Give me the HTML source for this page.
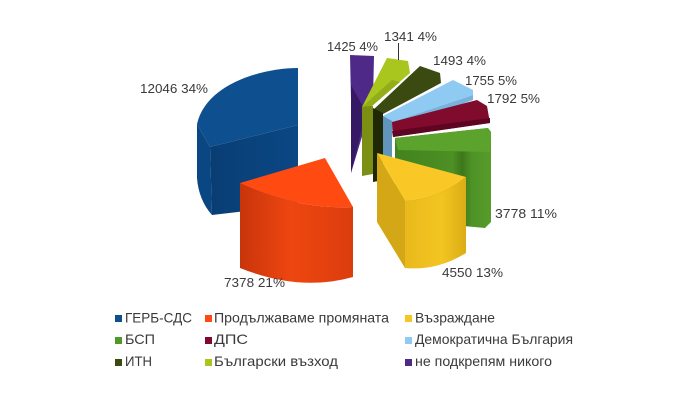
<!DOCTYPE html>
<html>
<head>
<meta charset="utf-8">
<style>
  html,body{margin:0;padding:0;background:#ffffff;}
  svg{display:block;}
  text{font-family:"Liberation Sans","Noto Sans CJK SC",sans-serif;fill:#3a3a3a;}
</style>
</head>
<body>
<svg width="680" height="416" viewBox="0 0 680 416" xmlns="http://www.w3.org/2000/svg">
  <defs>
    <linearGradient id="redFront" x1="0" y1="0" x2="1" y2="0">
      <stop offset="0" stop-color="#c8350b"/>
      <stop offset="0.45" stop-color="#ee4610"/>
      <stop offset="1" stop-color="#db3d0d"/>
    </linearGradient>
    <linearGradient id="yelFront" x1="0" y1="0" x2="1" y2="0">
      <stop offset="0" stop-color="#e9b91c"/>
      <stop offset="0.6" stop-color="#f3c521"/>
      <stop offset="1" stop-color="#dcac16"/>
    </linearGradient>
    <linearGradient id="greenMain" x1="0" y1="0" x2="1" y2="0">
      <stop offset="0" stop-color="#428220"/>
      <stop offset="0.6" stop-color="#4d9024"/>
      <stop offset="0.7" stop-color="#3e771b"/>
      <stop offset="0.8" stop-color="#4e9326"/>
      <stop offset="1" stop-color="#579b2b"/>
    </linearGradient>
    <linearGradient id="blueFront" x1="0" y1="0" x2="1" y2="0">
      <stop offset="0" stop-color="#093e74"/>
      <stop offset="1" stop-color="#0b4784"/>
    </linearGradient>
  </defs>

  <!-- purple -->
  <path d="M350,55 L374,56 L373,100 L351,173 L351,100 Z" fill="#4e2987"/>
  <path d="M351,85 L366,112 L351,173 Z" fill="#361964"/>

  <!-- lime -->
  <path d="M387,58 L408,61 L410,73 L372,106 L362,107 Z" fill="#a9c61e"/>
  <path d="M362,107 L372,106 L400,82 L392,80 Z" fill="#93ad18"/>
  <path d="M362,107 L373,106 L373,174 L362,176 Z" fill="#7a8f14"/>

  <!-- olive -->
  <path d="M420,66 L440,73 L441,83 L383,114 L373,110 Z" fill="#3b4a10"/>
  <path d="M373,108 L383,113 L383,180 L373,182 Z" fill="#1f2906"/>

  <!-- light blue -->
  <path d="M453,80 L473,90 L473,95 L392,122 L383,116 Z" fill="#8ecaf1"/>
  <path d="M383,116 L392,122 L473,95 L473,100 L392,130 Z" fill="#79b2dc"/>
  <path d="M383,116 L392,121 L392,160 L383,160 Z" fill="#6295bb"/>

  <!-- maroon -->
  <path d="M477,100 L487,106 L490,123 L393,137 L392,122 Z" fill="#800b2c"/>
  <path d="M392,131 L490,118 L490,123 L393,137 Z" fill="#5e0521"/>

  <!-- green -->
  <path d="M395,138 L488,128 L491,132 L491,222 L485,228 L420,222 L395,200 Z" fill="url(#greenMain)"/>
  <path d="M395,138 L488,128 L491,132 L490,152 L398,150 Z" fill="#5ba32d"/>

  <!-- blue -->
  <path d="M298,68 C262,68 206,84 197,124 L210,147 L298,125 Z" fill="#0e4f90"/>
  <path d="M197,124 L210,147 L212,215 C203,205 198,192 197,178 Z" fill="#0a4682"/>
  <path d="M210,147 L298,125 L298,205 L212,215 Z" fill="url(#blueFront)"/>

  <!-- yellow -->
  <path d="M377,153 L405,201 L405,268 L377,222 Z" fill="#d4a716"/>
  <path d="M405,201 Q437,200 466,177 L466,253 Q437,271 405,268 Z" fill="url(#yelFront)"/>
  <path d="M377,153 L405,201 Q437,200 466,177 Z" fill="#fac826"/>

  <!-- red -->
  <path d="M240,183 Q297,210 353,207 L353,277 Q300,292 240,268 Z" fill="url(#redFront)"/>
  <path d="M240,183 L325,158 L353,207 Q297,210 240,183 Z" fill="#ff4b12"/>

  <!-- leader line -->
  <line x1="398.5" y1="43" x2="398.5" y2="60" stroke="#333" stroke-width="1"/>

  <!-- labels -->
  <g font-size="13">
    <text x="140" y="93" textLength="68" lengthAdjust="spacingAndGlyphs">12046 34%</text>
    <text x="327" y="51" textLength="51" lengthAdjust="spacingAndGlyphs">1425 4%</text>
    <text x="384" y="41" textLength="53" lengthAdjust="spacingAndGlyphs">1341 4%</text>
    <text x="433" y="65" textLength="53" lengthAdjust="spacingAndGlyphs">1493 4%</text>
    <text x="465" y="85" textLength="52" lengthAdjust="spacingAndGlyphs">1755 5%</text>
    <text x="487" y="103" textLength="53" lengthAdjust="spacingAndGlyphs">1792 5%</text>
    <text x="495" y="218" textLength="62" lengthAdjust="spacingAndGlyphs">3778 11%</text>
    <text x="442" y="277" textLength="61" lengthAdjust="spacingAndGlyphs">4550 13%</text>
    <text x="224" y="287" textLength="61" lengthAdjust="spacingAndGlyphs">7378 21%</text>
  </g>

  <!-- legend -->
  <g>
    <rect x="115" y="315" width="7" height="7" fill="#0e4f90"/>
    <rect x="205" y="315" width="7" height="7" fill="#ff4b12"/>
    <rect x="405" y="315" width="7" height="7" fill="#f7c623"/>
    <rect x="115" y="337" width="7" height="7" fill="#4f9a26"/>
    <rect x="205" y="337" width="7" height="7" fill="#7f0a2b"/>
    <rect x="405" y="337" width="7" height="7" fill="#8ecaf1"/>
    <rect x="115" y="359" width="7" height="7" fill="#3b4a10"/>
    <rect x="205" y="359" width="7" height="7" fill="#a9c61e"/>
    <rect x="405" y="359" width="7" height="7" fill="#4e2987"/>
  </g>
  <g font-size="14">
    <text x="125" y="322.5" textLength="67" lengthAdjust="spacingAndGlyphs">ГЕРБ-СДС</text>
    <text x="214" y="322.5" textLength="175" lengthAdjust="spacingAndGlyphs">Продължаваме промяната</text>
    <text x="415" y="322.5" textLength="80" lengthAdjust="spacingAndGlyphs">Възраждане</text>
    <text x="125" y="344" textLength="30" lengthAdjust="spacingAndGlyphs">БСП</text>
    <text x="214" y="344" textLength="34" lengthAdjust="spacingAndGlyphs">ДПС</text>
    <text x="415" y="344" textLength="158" lengthAdjust="spacingAndGlyphs">Демократична България</text>
    <text x="125" y="366" textLength="27" lengthAdjust="spacingAndGlyphs">ИТН</text>
    <text x="214" y="366" textLength="124" lengthAdjust="spacingAndGlyphs">Български възход</text>
    <text x="415" y="366" textLength="137" lengthAdjust="spacingAndGlyphs">не подкрепям никого</text>
  </g>
</svg>
</body>
</html>
